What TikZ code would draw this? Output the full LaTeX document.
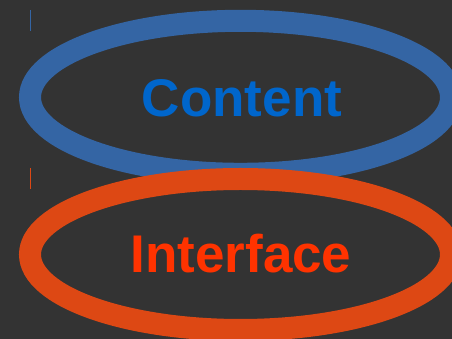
\documentclass[tikz,border=0pt]{standalone}
\usepackage{fontspec}
\setmainfont{Liberation Sans}
\definecolor{bgdark}{HTML}{333333}
\definecolor{ringblue}{HTML}{3465A4}
\definecolor{textblue}{HTML}{0066CC}
\definecolor{ringorange}{HTML}{DD4814}
\definecolor{textorange}{HTML}{FF3300}
\begin{document}
\begin{tikzpicture}[x=1pt,y=1pt,
    ring/.style={line width=22pt},
    label/.style={font=\fontsize{53}{60}\selectfont\bfseries, anchor=base, inner sep=0pt}]
      % Bakgrund
      \fill[bgdark] (0,0) rectangle (452,339);
      \useasboundingbox (0,0) rectangle (452,339);
      % Ringar
      \draw[ring,ringblue] (240.5,241.7) ellipse (210.5 and 76.5);
      \draw[ring,ringorange] (240.5,84.5) ellipse (210.5 and 75.5);
      % Text
      \node[label,textblue] (content) at (242,222) {Content};
      \node[label,textorange] (interface) at (241,66) {Interface};
      % Smala streck
      \draw[ringblue,line width=1pt] (30,329) -- (30,308);
      \draw[ringorange,line width=1pt] (30,171) -- (30,150);
    \end{tikzpicture}
\end{document}
